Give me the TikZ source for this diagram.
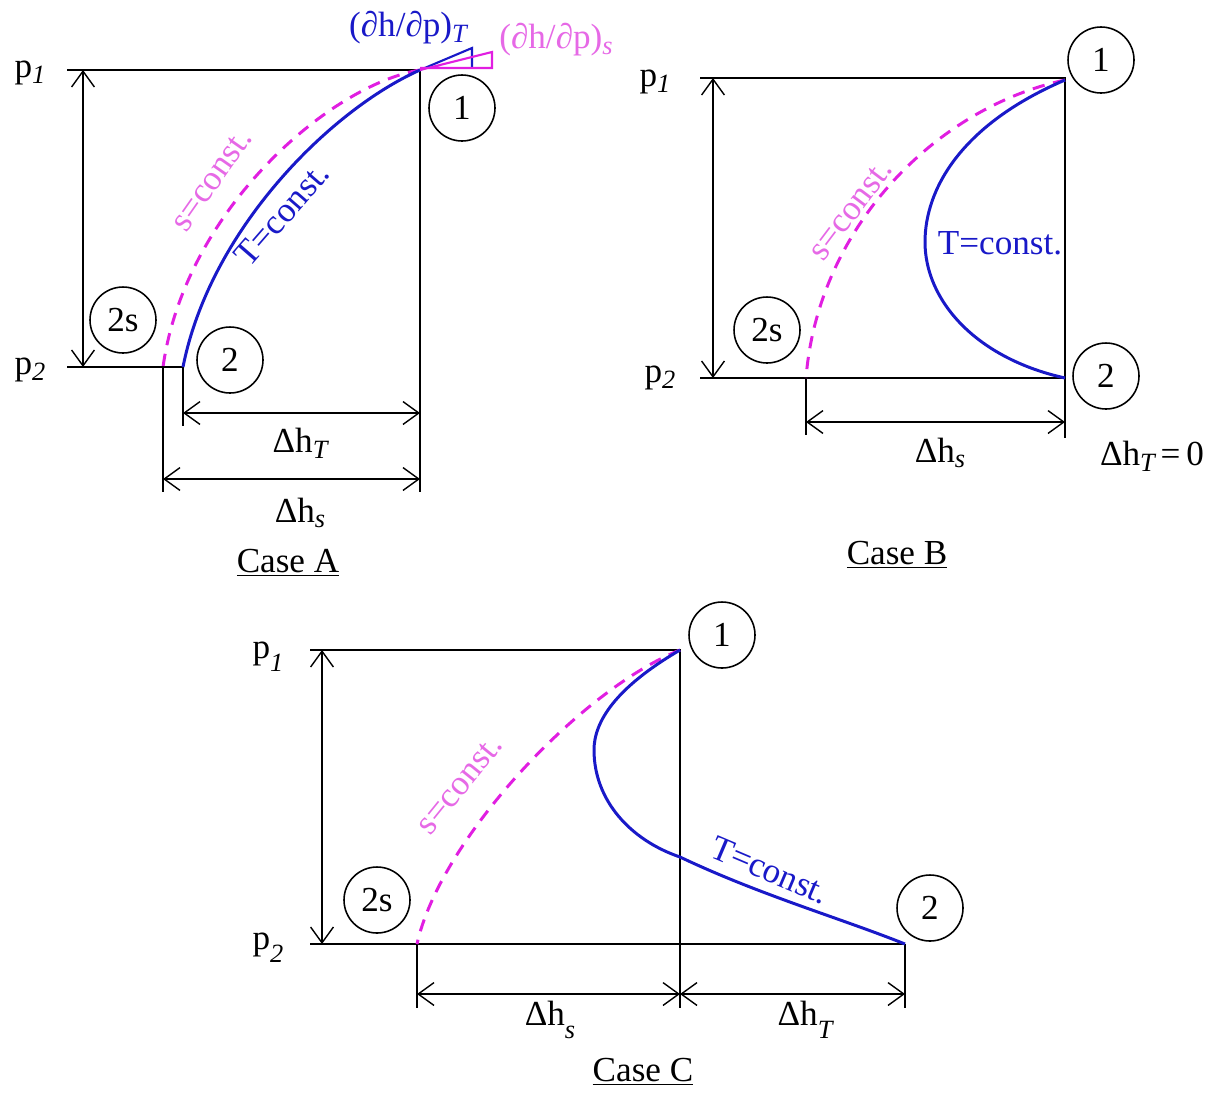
\documentclass[tikz,border=0pt]{standalone}
\usepackage{fontspec}
\setmainfont{Liberation Serif}
\usetikzlibrary{arrows.meta}

\definecolor{isoblue}{RGB}{25,25,200}
\definecolor{isomag}{RGB}{225,30,225}
\definecolor{labmag}{RGB}{230,105,230}
\newcommand{\lsub}[1]{\raisebox{-0.35ex}{\fontsize{15}{15}\selectfont\itshape #1}}
\newcommand{\dsub}[1]{\raisebox{-0.8ex}{\fontsize{15}{15}\selectfont\itshape #1}}

\tikzset{
  frame/.style={line width=0.8pt},
  dim/.style={{Straight Barb[length=9pt,width=13pt]}-{Straight Barb[length=9pt,width=13pt]}, line width=0.8pt},
  state/.style={draw, circle, line width=0.9pt, minimum size=1.32cm, inner sep=0pt, font=\fontsize{20}{24}\selectfont},
  lbl/.style={inner sep=0pt, font=\fontsize{20}{24}\selectfont},
  isoT/.style={isoblue, line width=1.7pt},
  isoS/.style={isomag, line width=1.7pt, dash pattern=on 7pt off 5pt},
}

\begin{document}
\begin{tikzpicture}[x=0.02cm, y=-0.02cm]
\useasboundingbox (0,0) rectangle (1219,1093);

% ---------------- Case A ----------------
\coordinate (a1) at (420,70);
\coordinate (a2) at (183,367);
\coordinate (a2s) at (163,367);
\coordinate (ap1) at (67,70);
\coordinate (ap2) at (67,367);

\draw[frame] (ap1) -- (a1) -- (420,492);
\draw[frame] (ap2) -- (a2);
\draw[frame] (a2s) -- (163,492);
\draw[frame] (a2) -- (183,426);
\draw[dim] (83,70) -- (83,367);
\draw[dim] (183,413) -- (420,413);
\draw[dim] (163,479) -- (420,479);

% isentrope and isotherm
\draw[isoS] (a1) .. controls (330,85) and (185,210) .. (a2s);
\draw[isoT] (a1) .. controls (330,110) and (210,230) .. (a2);

% slope triangles at state 1
\draw[isoblue, line width=1.2pt] (a1) -- (472,48) -- (472,68);
\draw[isomag, line width=1.2pt] (a1) -- (492,52) -- (492,68) -- (420,68);

\node[state] (A1) at (462,108) {1};
\node[state] (A2) at (230,360) {2};
\node[state] (A2s) at (123,320) {2s};

\node[lbl] (Ap1) at (30,73) {p\lsub{1}};
\node[lbl] (Ap2) at (30,370) {p\lsub{2}};
\node[lbl] (AhT) at (300,443) {Δh\lsub{T}};
\node[lbl] (Ahs) at (300,513) {Δh\lsub{s}};
\node[lbl] (Acase) at (288,563) {\underline{Case A}};
\node[lbl, isoblue] (AdT) at (408,28) {(∂h/∂p)\lsub{T}};
\node[lbl, labmag] (Ads) at (556,40) {(∂h/∂p)\lsub{s}};
\node[lbl, labmag, rotate=55] (As) at (212,180) {s=const.};
\node[lbl, isoblue, rotate=49] (AT) at (282,214) {T=const.};

% ---------------- Case B ----------------
\coordinate (b1) at (1065,80);
\coordinate (b2) at (1065,378);
\coordinate (b2s) at (806,378);
\coordinate (bp1) at (700,78);
\coordinate (bp2) at (700,378);

\draw[frame] (bp1) -- (1065,78) -- (1065,438);
\draw[frame] (bp2) -- (b2);
\draw[frame] (b2s) -- (806,435);
\draw[dim] (713,78) -- (713,378);
\draw[dim] (806,422) -- (1065,422);

\draw[isoS] (b1) .. controls (935,108) and (818,228) .. (b2s);
\draw[isoT] (b1) .. controls (960,125) and (925,190) .. (925,242)
  .. controls (925,300) and (975,358) .. (b2);

\node[state] (B1) at (1101,60) {1};
\node[state] (B2) at (1106,376) {2};
\node[state] (B2s) at (767,330) {2s};

\node[lbl] (Bp1) at (655,82) {p\lsub{1}};
\node[lbl] (Bp2) at (660,378) {p\lsub{2}};
\node[lbl] (Bhs) at (940,453) {Δh\lsub{s}};
\node[lbl] (BhT) at (1152,456) {Δh\lsub{T}\,=\,0};
\node[lbl] (Bcase) at (897,555) {\underline{Case B}};
\node[lbl, labmag, rotate=53] (Bs) at (851,210) {s=const.};
\node[lbl, isoblue] (BT) at (1000,243) {T=const.};

% ---------------- Case C ----------------
\coordinate (c1) at (680,650);
\coordinate (c2) at (905,944);
\coordinate (c2s) at (417,944);
\coordinate (cx) at (680,857);
\coordinate (cp1) at (310,650);
\coordinate (cp2) at (310,944);

\draw[frame] (cp1) -- (c1) -- (680,1008);
\draw[frame] (cp2) -- (c2);
\draw[frame] (c2s) -- (417,1008);
\draw[frame] (c2) -- (905,1008);
\draw[dim] (322,650) -- (322,944);
\draw[dim] (417,994) -- (680,994);
\draw[dim] (680,994) -- (905,994);

\draw[isoS] (c1) .. controls (580,690) and (440,840) .. (c2s);
\draw[isoT] (c1) .. controls (615,688) and (594,722) .. (594,750)
  .. controls (594,800) and (630,840) .. (cx)
  .. controls (760,895) and (840,918) .. (c2);

\node[state] (C1) at (722,635) {1};
\node[state] (C2) at (930,908) {2};
\node[state] (C2s) at (377,900) {2s};

\node[lbl] (Cp1) at (268,657) {p\dsub{1}};
\node[lbl] (Cp2) at (268,948) {p\dsub{2}};
\node[lbl] (Chs) at (550,1020) {Δh\dsub{s}};
\node[lbl] (ChT) at (805,1020) {Δh\dsub{T}};
\node[lbl] (Ccase) at (643,1072) {\underline{Case C}};
\node[lbl, labmag, rotate=51] (Cs) at (460,785) {s=const.};
\node[lbl, isoblue, rotate=-23] (CT) at (770,870) {T=const.};
\end{tikzpicture}
\end{document}
